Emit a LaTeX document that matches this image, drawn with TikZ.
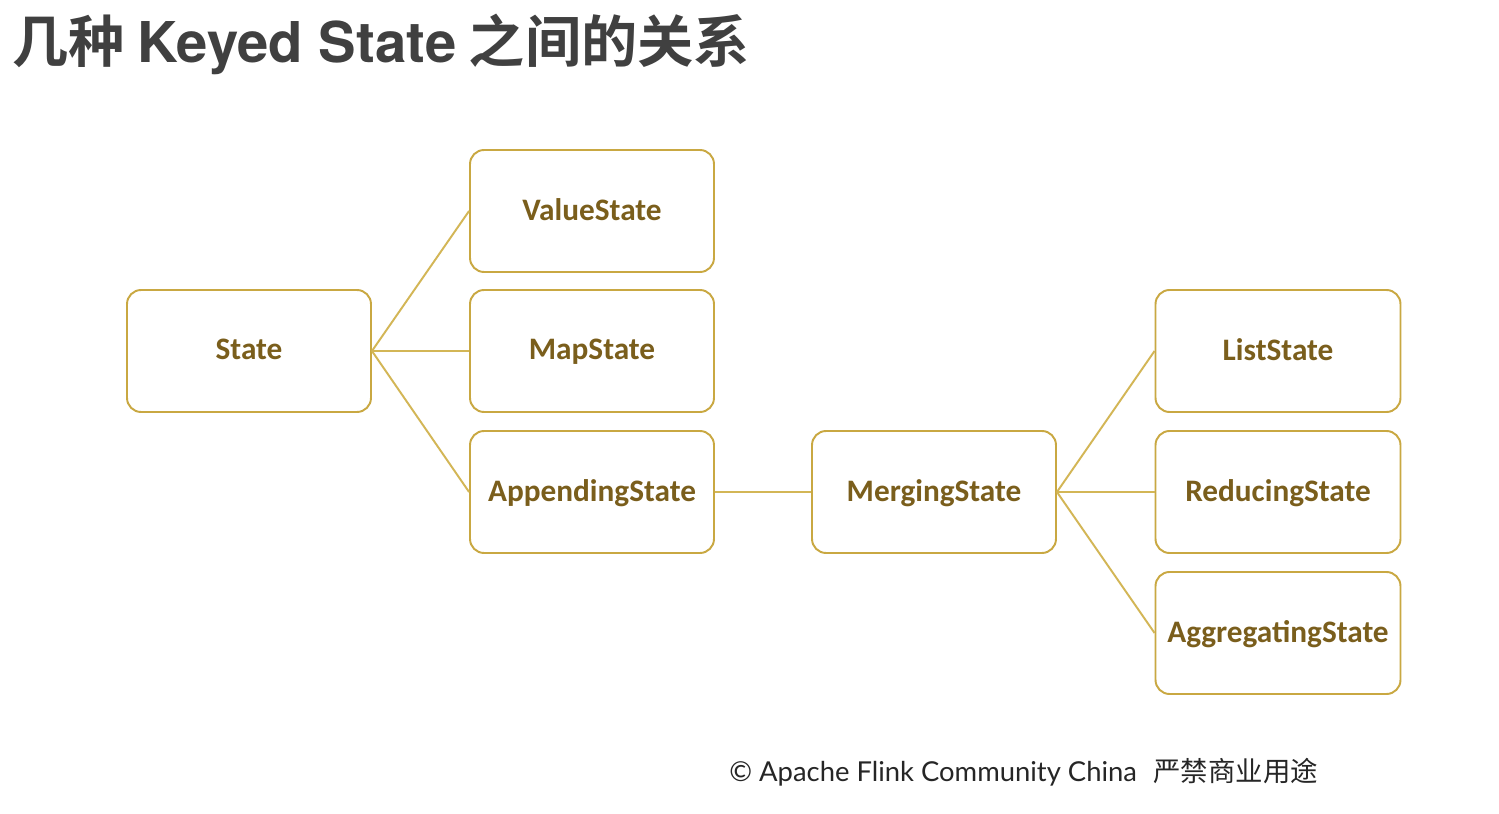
\documentclass[tikz,border=0pt]{standalone}
\usepackage{fontspec}
\setmainfont{Carlito}
\newfontfamily\cjk{Noto Sans CJK SC}
\newfontfamily\cjkb{Noto Sans CJK SC Bold}
\newfontfamily\heros{TeX Gyre Heros}
\newfontfamily\foot{Lato}
\definecolor{boxline}{HTML}{C9A842}
\definecolor{conn}{HTML}{D3B656}
\definecolor{labeltxt}{HTML}{7A5E1C}
\definecolor{titletxt}{HTML}{404040}
\tikzset{
  px/.style={x=0.02cm,y=-0.02cm},
  statebox/.style={draw=boxline, line width=1.1pt, rounded corners=0.28cm,
    minimum width=4.88cm, minimum height=2.44cm, inner sep=0pt,
    font=\bfseries\fontsize{17.8}{20}\selectfont, text=labeltxt,
    text depth=0.45ex},
  link/.style={draw=conn, line width=1.1pt}
}
\begin{document}
\begin{tikzpicture}[px]
\useasboundingbox (0,0) rectangle (1499,814);
\fill[white] (0,0) rectangle (1499,814);
\node[anchor=base west, text=titletxt, inner sep=0pt, font=\fontsize{32}{36}\selectfont] (title) at (12,63)
  {{\cjkb 几种} {\heros\bfseries Keyed State} {\cjkb 之间的关系}};
\node[statebox] (state) at (249,351) {State};
\node[statebox] (value) at (592,211) {ValueState};
\node[statebox] (map) at (592,351) {MapState};
\node[statebox] (append) at (592,492) {AppendingState};
\node[statebox] (merge) at (934,492) {MergingState};
\node[statebox, minimum width=4.9cm] (list) at (1278,351) {ListState};
\node[statebox, minimum width=4.9cm] (reduce) at (1278,492) {ReducingState};
\node[statebox, minimum width=4.9cm] (aggr) at (1278,633) {AggregatingState};
\draw[link] (state.east) -- (value.west);
\draw[link] (state.east) -- (map.west);
\draw[link] (state.east) -- (append.west);
\draw[link] (append.east) -- (merge.west);
\draw[link] (merge.east) -- (list.west);
\draw[link] (merge.east) -- (reduce.west);
\draw[link] (merge.east) -- (aggr.west);
\node[anchor=base west, inner sep=0pt, text=black!85, font=\fontsize{15.6}{18}\selectfont] (footer) at (729,781)
  {{\foot © Apache Flink Community China}\hspace{0.6em}{\cjk 严禁商业用途}};
\end{tikzpicture}
\end{document}
